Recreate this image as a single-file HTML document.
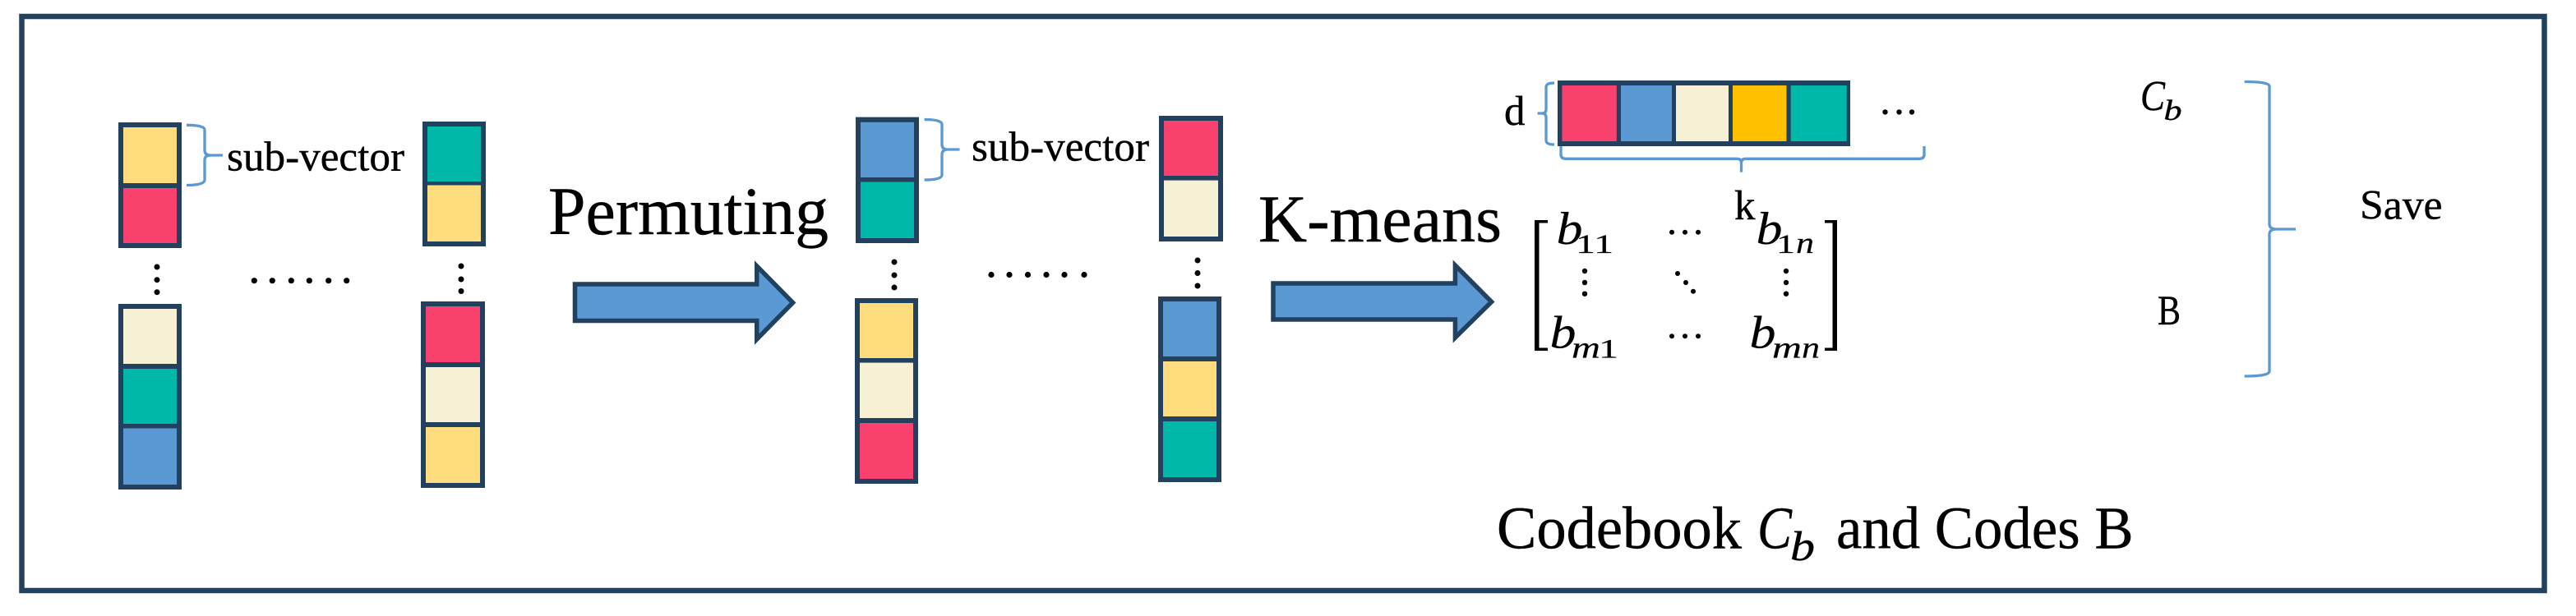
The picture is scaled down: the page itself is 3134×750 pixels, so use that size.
<!DOCTYPE html>
<html><head><meta charset="utf-8"><style>
html,body{margin:0;padding:0;background:#fff;width:3134px;height:750px;overflow:hidden}
svg{display:block}
text{font-family:"Liberation Serif",serif;fill:#000;stroke:#000;stroke-width:.4}
.i{font-style:italic}
.m{stroke-width:.2}
.n{fill:#21415E}.y{fill:#FFDC7D}.r{fill:#F9416D}.t{fill:#00B8A9}.b{fill:#5B99D4}.c{fill:#F6F1D5}.g{fill:#FFC000}
.br{fill:none;stroke:#5B99D4;stroke-width:3.3}
.ar{fill:#5B99D4;stroke:#21415E;stroke-width:5.5;stroke-miterlimit:10}
</style></head><body>
<svg xmlns="http://www.w3.org/2000/svg" width="3134" height="750" viewBox="0 0 3134 750">
<rect width="3134" height="750" fill="#fff"/>
<rect x="26.5" y="20" width="3069" height="699" fill="none" stroke="#21415E" stroke-width="6.5"/>

<!-- col 1 -->
<rect class="n" x="144" y="149" width="77" height="153"/>
<rect class="y" x="150" y="155" width="65" height="68"/><rect class="r" x="150" y="229" width="65" height="67"/>
<rect class="n" x="144" y="370" width="77" height="226"/>
<rect class="c" x="150" y="376" width="65" height="67"/><rect class="t" x="150" y="449" width="65" height="67"/><rect class="b" x="150" y="521.5" width="65" height="68.5"/>
<!-- col 2 -->
<rect class="n" x="514" y="148" width="77" height="152"/>
<rect class="t" x="520" y="154" width="65" height="67"/><rect class="y" x="520" y="225.5" width="65" height="68.5"/>
<rect class="n" x="512" y="367" width="78" height="227"/>
<rect class="r" x="518" y="373" width="66" height="68"/><rect class="c" x="518" y="447" width="66" height="67"/><rect class="y" x="518" y="520" width="66" height="68"/>
<!-- col 3 -->
<rect class="n" x="1041" y="142.6" width="77" height="153.4"/>
<rect class="b" x="1047" y="148.8" width="65" height="67.2"/><rect class="t" x="1047" y="221.5" width="65" height="68.5"/>
<rect class="n" x="1040" y="363" width="77" height="226"/>
<rect class="y" x="1046" y="369" width="65" height="67"/><rect class="c" x="1046" y="441.6" width="65" height="67.4"/><rect class="r" x="1046" y="515" width="65" height="68"/>
<!-- col 4 -->
<rect class="n" x="1410" y="141" width="78" height="153"/>
<rect class="r" x="1416" y="147" width="66" height="67"/><rect class="c" x="1416" y="219.6" width="66" height="68.4"/>
<rect class="n" x="1409" y="361" width="77" height="226"/>
<rect class="b" x="1415" y="367" width="65" height="67"/><rect class="y" x="1415" y="440" width="65" height="67"/><rect class="t" x="1415" y="513" width="65" height="68"/>

<!-- vertical dots -->
<g fill="#000">
<circle cx="191" cy="325" r="3.5"/><circle cx="191" cy="340.7" r="3.5"/><circle cx="191" cy="355.7" r="3.5"/>
<circle cx="561" cy="324" r="3.5"/><circle cx="561" cy="340" r="3.5"/><circle cx="561" cy="354.5" r="3.5"/>
<circle cx="1088" cy="319" r="3.5"/><circle cx="1088" cy="335" r="3.5"/><circle cx="1088" cy="350" r="3.5"/>
<circle cx="1457" cy="317" r="3.5"/><circle cx="1457" cy="332.5" r="3.5"/><circle cx="1457" cy="348" r="3.5"/>
<!-- horizontal dots -->
<circle cx="309.3" cy="341.7" r="3.6"/><circle cx="331.3" cy="341.7" r="3.6"/><circle cx="354.3" cy="341.7" r="3.6"/><circle cx="376.3" cy="341.7" r="3.6"/><circle cx="399.7" cy="341.7" r="3.6"/><circle cx="421.7" cy="341.7" r="3.6"/>
<circle cx="1206" cy="334.5" r="3.6"/><circle cx="1228" cy="334.5" r="3.6"/><circle cx="1250.5" cy="334.5" r="3.6"/><circle cx="1273" cy="334.5" r="3.6"/><circle cx="1295" cy="334.5" r="3.6"/><circle cx="1319" cy="334.5" r="3.6"/>
<!-- ellipsis next to code row -->
<circle cx="2293.5" cy="136.4" r="3.2"/><circle cx="2310.5" cy="136.4" r="3.2"/><circle cx="2326" cy="136.4" r="3.2"/>
<!-- matrix dots -->
<circle cx="2034" cy="282.7" r="3"/><circle cx="2050" cy="282.7" r="3"/><circle cx="2066" cy="282.7" r="3"/>
<circle cx="2034" cy="409.3" r="3"/><circle cx="2050" cy="409.3" r="3"/><circle cx="2066" cy="409.3" r="3"/>
<circle cx="1928" cy="330" r="3.2"/><circle cx="1928" cy="344" r="3.2"/><circle cx="1928" cy="357.7" r="3.2"/>
<circle cx="2173" cy="330" r="3.2"/><circle cx="2173" cy="344" r="3.2"/><circle cx="2173" cy="357.7" r="3.2"/>
<circle cx="2041" cy="333" r="3"/><circle cx="2051" cy="344" r="3"/><circle cx="2060" cy="354.7" r="3"/>
</g>

<!-- braces -->
<path class="br" d="M227 152.3 Q249 152.3 249 158 V183 Q249 189 256 189 H271 H256 Q249 189 249 195 V219 Q249 225.5 227 225.5"/>
<path class="br" d="M1124.6 145.5 Q1146 145.5 1146 151.5 V176 Q1146 182 1153 182 H1167.5 H1153 Q1146 182 1146 188 V213 Q1146 219 1124.6 219"/>
<path class="br" d="M1891 101 Q1881 101 1881 106 V133 Q1881 138 1876 138 H1870.6 H1876 Q1881 138 1881 143 V171 Q1881 176 1891 176"/>
<path class="br" d="M1899 178 V188 Q1899 193.3 1905 193.3 H2113 Q2118.5 193.3 2118.5 198 V209.6 V198 Q2118.5 193.3 2124 193.3 H2335 Q2341 193.3 2341 188 V178"/>
<path class="br" d="M2730.7 99.5 Q2761 99.5 2761 105 V273 Q2761 279 2770 279 H2793 H2770 Q2761 279 2761 285 V452 Q2761 458 2730.7 458"/>

<!-- arrows -->
<polygon class="ar" points="699.5,346 920.75,346 920.75,324 964.6,368.5 920.75,413 920.75,390.5 699.5,390.5"/>
<polygon class="ar" points="1549,345 1770.4,345 1770.4,323 1814.6,367.5 1770.4,411 1770.4,389 1549,389"/>

<!-- code row -->
<rect class="n" x="1895" y="98" width="356" height="80"/>
<rect class="r" x="1900.4" y="104" width="66.4" height="68"/>
<rect class="b" x="1972" y="104" width="62" height="68"/>
<rect class="c" x="2039" y="104" width="64" height="68"/>
<rect class="g" x="2108" y="104" width="65.5" height="68"/>
<rect class="t" x="2178.6" y="104" width="68.1" height="68"/>

<!-- matrix brackets -->
<path d="M1867 268 H1883 V271.5 H1872.5 V423.5 H1883 V427 H1867Z" fill="#000"/>
<path d="M2235 268 H2220 V271.5 H2229.5 V423.5 H2220 V427 H2235Z" fill="#000"/>

<!-- labels -->
<text x="276" y="207.3" font-size="51" textLength="216" lengthAdjust="spacingAndGlyphs">sub-vector</text>
<text x="1182" y="195.7" font-size="51" textLength="216" lengthAdjust="spacingAndGlyphs">sub-vector</text>
<text x="667" y="285" font-size="83" textLength="341" lengthAdjust="spacingAndGlyphs">Permuting</text>
<text x="1531" y="294" font-size="82" textLength="296" lengthAdjust="spacingAndGlyphs">K-means</text>
<text x="1830" y="152" font-size="51">d</text>
<text x="2110" y="267" font-size="51">k</text>

<text class="i m" x="1893.5" y="297" font-size="56" textLength="32" lengthAdjust="spacingAndGlyphs">b</text>
<text class="m" x="1917" y="308" font-size="33" textLength="46" lengthAdjust="spacingAndGlyphs">11</text>
<text class="i m" x="2136.5" y="297" font-size="56" textLength="32" lengthAdjust="spacingAndGlyphs">b</text>
<text class="m" x="2161" y="308" font-size="33" textLength="23" lengthAdjust="spacingAndGlyphs">1</text>
<text class="i m" x="2185" y="308" font-size="37" textLength="22" lengthAdjust="spacingAndGlyphs">n</text>
<text class="i m" x="1885.5" y="423.4" font-size="56" textLength="32" lengthAdjust="spacingAndGlyphs">b</text>
<text class="i m" x="1912" y="435.4" font-size="37" textLength="35" lengthAdjust="spacingAndGlyphs">m</text>
<text class="m" x="1945" y="435.4" font-size="33" textLength="24" lengthAdjust="spacingAndGlyphs">1</text>
<text class="i m" x="2128.5" y="423.4" font-size="56" textLength="32" lengthAdjust="spacingAndGlyphs">b</text>
<text class="i m" x="2156" y="435.4" font-size="37" textLength="36" lengthAdjust="spacingAndGlyphs">m</text>
<text class="i m" x="2192" y="435.4" font-size="37" textLength="22" lengthAdjust="spacingAndGlyphs">n</text>

<text class="i" x="2604" y="134" font-size="52" textLength="30" lengthAdjust="spacingAndGlyphs">C</text>
<text class="i" x="2632.5" y="146" font-size="35" textLength="22" lengthAdjust="spacingAndGlyphs">b</text>
<text x="2625" y="395" font-size="51" textLength="28" lengthAdjust="spacingAndGlyphs">B</text>
<text x="2871" y="266.5" font-size="51" textLength="100.5" lengthAdjust="spacingAndGlyphs">Save</text>

<text x="1821" y="667.5" font-size="73" textLength="298" lengthAdjust="spacingAndGlyphs">Codebook</text>
<text class="i" x="2138" y="667.5" font-size="73" textLength="42" lengthAdjust="spacingAndGlyphs">C</text>
<text class="i" x="2178" y="682" font-size="51" textLength="30" lengthAdjust="spacingAndGlyphs">b</text>
<text x="2234" y="667.5" font-size="73" textLength="361.5" lengthAdjust="spacingAndGlyphs">and Codes B</text>
</svg>
</body></html>
